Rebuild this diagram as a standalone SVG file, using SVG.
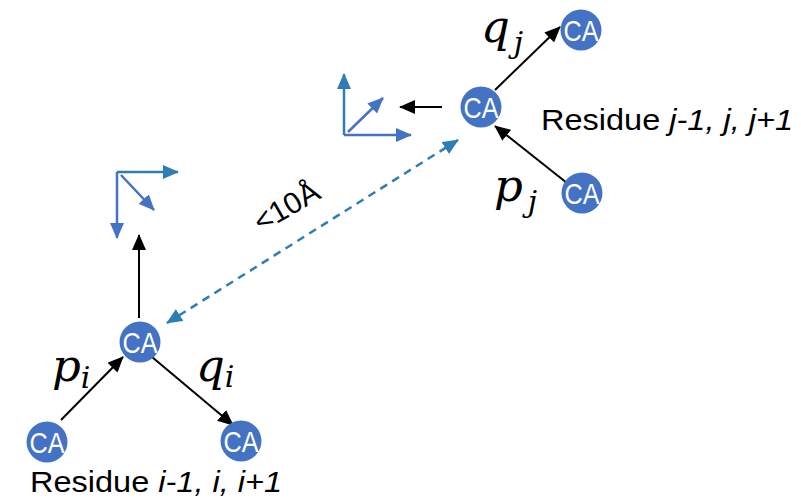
<svg xmlns="http://www.w3.org/2000/svg" width="801" height="504" viewBox="0 0 801 504">
<style>
.node circle{fill:#4472C4;}
.node text{fill:#fff;font-family:"Liberation Sans",Arial,sans-serif;font-size:30px;text-anchor:middle;}
.blk{stroke:#000;stroke-width:2;fill:none;marker-end:url(#ab);}
.teal{stroke:#2E7EB5;stroke-width:2.5;fill:none;marker-end:url(#at);}
.blue{stroke:#4472C4;stroke-width:2.5;fill:none;marker-end:url(#au);}
.math{font-family:"DejaVu Serif","Liberation Serif",serif;font-style:italic;fill:#000;font-size:45px;}
.sub{font-size:30px;}
.lbl{font-family:"Liberation Sans",Arial,sans-serif;font-size:30px;fill:#000;}
.dist{font-family:"Liberation Sans",Arial,sans-serif;font-size:30px;fill:#000;}
</style>
<defs>
<marker id="ab" markerUnits="userSpaceOnUse" markerWidth="16" markerHeight="14" refX="15" refY="7" orient="auto"><path d="M0,0 L16,7 L0,14 z" fill="#000"/></marker>
<marker id="at" markerUnits="userSpaceOnUse" markerWidth="16" markerHeight="14" refX="15" refY="7" orient="auto"><path d="M0,0 L16,7 L0,14 z" fill="#2E7EB5"/></marker>
<marker id="au" markerUnits="userSpaceOnUse" markerWidth="16" markerHeight="14" refX="15" refY="7" orient="auto"><path d="M0,0 L16,7 L0,14 z" fill="#4472C4"/></marker>
<marker id="ds" markerUnits="userSpaceOnUse" markerWidth="16" markerHeight="14" refX="15" refY="7" orient="auto-start-reverse"><path d="M0,0 L16,7 L0,14 z" fill="#2E7EB5"/></marker>
</defs>
<g id="connectors">
<line class="blk" x1="61" y1="420" x2="123" y2="357"/>
<line class="blk" x1="152" y1="357" x2="233" y2="425"/>
<line class="blk" x1="139" y1="318" x2="139" y2="235"/>
<line class="blk" x1="495" y1="90" x2="560" y2="27"/>
<line class="blk" x1="567" y1="183" x2="495" y2="126"/>
<line class="blk" x1="442" y1="107" x2="400" y2="107"/>
<line x1="167" y1="323" x2="458" y2="140" stroke="#2E7EB5" stroke-width="2.5" stroke-dasharray="8,6" marker-start="url(#ds)" marker-end="url(#ds)"/>
</g>
<g id="frame-j">
<line x1="344" y1="135" x2="344" y2="74" class="teal"/>
<line x1="344" y1="135" x2="411" y2="135" class="blue"/>
<line x1="348" y1="132" x2="383" y2="98" class="blue"/>
</g>
<g id="frame-i">
<line x1="117" y1="172" x2="178" y2="172" class="teal"/>
<line x1="117" y1="172" x2="117" y2="238" class="blue"/>
<line x1="121" y1="175" x2="154" y2="210" class="blue"/>
</g>
<g id="ca-i" class="node"><circle cx="140" cy="342" r="20.5"/><text x="140" y="353" textLength="35" lengthAdjust="spacingAndGlyphs">CA</text></g>
<g id="ca-i-1" class="node"><circle cx="47" cy="442" r="20.5"/><text x="47" y="453" textLength="35" lengthAdjust="spacingAndGlyphs">CA</text></g>
<g id="ca-i+1" class="node"><circle cx="241" cy="441" r="20.5"/><text x="241" y="452" textLength="35" lengthAdjust="spacingAndGlyphs">CA</text></g>
<g id="ca-j" class="node"><circle cx="481" cy="107" r="20.5"/><text x="481" y="118" textLength="35" lengthAdjust="spacingAndGlyphs">CA</text></g>
<g id="ca-j+1" class="node"><circle cx="581" cy="30" r="20.5"/><text x="581" y="41" textLength="35" lengthAdjust="spacingAndGlyphs">CA</text></g>
<g id="ca-j-1" class="node"><circle cx="582" cy="193" r="20.5"/><text x="582" y="204" textLength="35" lengthAdjust="spacingAndGlyphs">CA</text></g>
<g id="labels">
<text class="math" x="52" y="381">p<tspan class="sub" dy="7">i</tspan></text>
<text class="math" x="196" y="381">q<tspan class="sub" dy="6">i</tspan></text>
<text class="math" x="481" y="42">q<tspan class="sub" dy="11" dx="4">j</tspan></text>
<text class="math" x="494" y="201">p<tspan class="sub" dy="11" dx="5">j</tspan></text>
<text class="lbl" x="30" y="492" textLength="252" lengthAdjust="spacingAndGlyphs">Residue <tspan font-style="italic">i-1, i, i+1</tspan></text>
<text class="lbl" x="541" y="130" textLength="252" lengthAdjust="spacingAndGlyphs">Residue <tspan font-style="italic">j-1, j, j+1</tspan></text>
<text class="dist" transform="translate(261,233) rotate(-30)">&lt;10Å</text>
</g>
</svg>
